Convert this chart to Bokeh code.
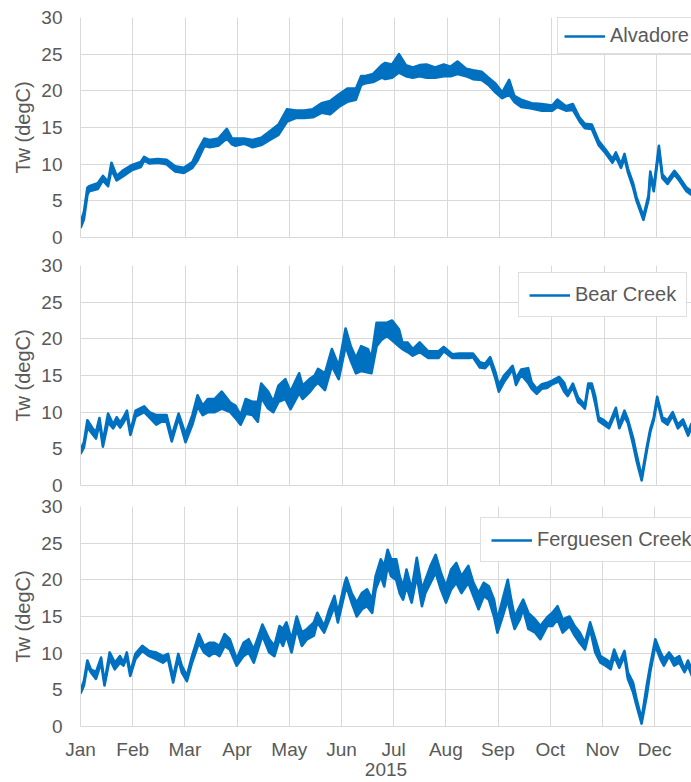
from bokeh.plotting import figure
from bokeh.layouts import column
from bokeh.models import Range1d, FixedTicker, Legend, LegendItem, ColumnDataSource
from bokeh.embed import file_html
from bokeh.resources import INLINE

# ---------------- data ----------------
months = ["Jan", "Feb", "Mar", "Apr", "May", "Jun",
          "Jul", "Aug", "Sep", "Oct", "Nov", "Dec"]
y_ticks = [0, 5, 10, 15, 20, 25, 30]
year_label = "2015"
y_label = "Tw (degC)"
series_names = ["Alvadore", "Bear Creek", "Ferguesen Creek"]

# day of year, daily low / high band of the water temperature trace
alv_day = [0, 2, 4, 5, 10, 13, 16, 18, 21, 25, 30, 35, 37, 40, 45, 50, 55, 60, 65, 68,
           72, 75, 80, 85, 88, 90, 95, 100, 105, 110, 115, 120, 125, 130, 135, 140, 145,
           150, 155, 160, 163, 165, 170, 175,
           177, 181, 185, 189, 193, 197, 201, 206, 211, 215, 219, 224, 228, 233, 237,
           241, 245, 249, 252, 256, 262, 268, 274, 277, 282, 286, 290, 293, 297, 301,
           305, 309, 311, 314, 316, 318, 321, 323, 327, 330, 331, 333, 336, 338, 341,
           345, 348, 352, 355]
alv_lo = [1.3, 2.5, 5.8, 6.3, 6.6, 7.8, 7.0, 9.2, 7.8, 8.4, 9.2, 9.6, 10.5, 10.1, 10.2,
          10.0, 9.0, 8.8, 9.5, 10.5, 12.5, 12.3, 12.5, 13.5, 12.7, 12.5, 12.8, 12.3, 12.6,
          13.3, 14.0, 15.8, 16.3, 16.3, 16.4, 17.0, 16.8, 17.8, 18.5, 18.8, 20.8, 21.0,
          21.2, 21.8,
          21.6, 21.8, 22.5, 22.0, 21.8, 22.0, 21.8, 21.8, 22.0, 22.0, 22.3, 22.0, 21.6,
          21.5, 20.8, 19.8, 19.0, 19.5, 18.5, 17.8, 17.6, 17.3, 17.3, 17.8, 17.3, 17.4,
          15.8, 14.9, 14.8, 12.6, 11.5, 10.2, 11.0, 9.5, 10.8, 8.9, 6.8, 5.0, 2.4, 5.2,
          8.4, 6.3, 11.9, 8.1, 7.3, 8.6, 7.7, 6.3, 5.8]
alv_hi = [2.0, 3.5, 6.8, 7.0, 7.4, 8.4, 7.6, 10.2, 8.4, 9.2, 9.9, 10.3, 11.0, 10.6, 10.7,
          10.6, 9.7, 9.5, 10.3, 11.8, 13.5, 13.3, 13.5, 14.8, 13.5, 13.5, 13.5, 13.3, 13.6,
          14.5, 15.4, 17.5, 17.3, 17.3, 17.5, 18.3, 18.6, 19.5, 20.3, 20.3, 22.0, 22.0,
          22.3, 23.5,
          23.8, 23.6, 25.0, 23.5, 23.2, 23.5, 23.6, 23.2, 23.6, 23.3, 24.0, 23.0, 22.8,
          22.6, 21.8, 21.0, 19.8, 21.5, 19.3, 18.8, 18.3, 18.2, 18.0, 18.8, 17.9, 18.2,
          16.3, 15.5, 15.4, 13.2, 12.0, 10.7, 11.6, 10.0, 11.4, 9.4, 7.4, 5.5, 2.9, 5.8,
          9.0, 6.8, 12.5, 8.6, 7.8, 9.1, 8.2, 6.8, 6.3]

bear_day = [0, 2, 4, 7, 9, 11, 13, 16, 19, 21, 23, 25, 27, 29, 32, 37, 40, 44, 47, 50,
            53, 57, 61, 65, 68, 71, 74, 78, 82, 87, 90, 93, 96, 100, 103, 105, 109, 112,
            115, 119, 122, 127, 129, 133, 136, 138, 142, 146, 150, 154, 157, 160, 163,
            167, 169, 172, 175, 178,
            181, 185, 187, 190, 193, 197, 202, 208, 211, 216, 220, 226, 228, 232, 235,
            238, 241, 243, 246, 251, 253, 256, 260, 262, 265, 268, 271, 274, 278, 281,
            283, 286, 289, 291, 293, 295, 297, 299, 301, 304, 307, 311, 313, 316, 318,
            321, 323, 326, 329, 331, 333, 335, 338, 341, 344, 347, 350, 353, 355]
bear_lo = [4.3, 5.2, 7.9, 7.0, 6.4, 8.5, 5.3, 8.6, 7.8, 8.6, 7.9, 8.6, 9.5, 6.9, 9.4,
           10.0, 9.3, 8.3, 8.7, 8.7, 6.0, 9.2, 5.9, 8.3, 10.8, 9.6, 10.0, 10.0, 10.5, 10.0,
           9.2, 8.3, 9.8, 9.6, 8.7, 12.0, 10.5, 10.0, 11.4, 11.8, 10.4, 12.6, 11.8, 12.7,
           13.6, 14.0, 13.0, 16.3, 14.5, 19.0, 17.0, 15.3, 15.6, 15.4, 15.3, 19.0, 19.9,
           20.4,
           19.8, 19.0, 18.6, 18.2, 17.7, 18.2, 17.4, 17.4, 18.3, 17.4, 17.4, 17.4, 17.5,
           16.1, 16.0, 16.8, 14.6, 12.8, 14.1, 15.8, 13.7, 15.1, 14.0, 13.2, 12.5, 13.2,
           13.3, 13.8, 14.2, 12.8, 12.2, 13.4, 11.4, 11.0, 10.5, 13.4, 13.2, 11.2, 8.8,
           8.3, 7.8, 10.0, 7.8, 9.4, 8.5, 5.6, 3.4, 0.7, 4.8, 7.3, 8.9, 11.6, 8.8, 8.3,
           9.5, 7.8, 8.5, 6.8, 8.0]
bear_hi = [4.9, 5.9, 8.9, 7.8, 7.3, 9.2, 6.0, 9.8, 8.3, 9.3, 8.6, 9.3, 10.2, 7.4, 10.2,
           10.8, 10.0, 9.6, 9.6, 9.6, 6.8, 9.8, 7.0, 9.6, 12.3, 10.9, 11.8, 11.8, 12.8,
           11.3, 10.9, 9.6, 11.8, 11.4, 11.4, 13.9, 12.8, 11.4, 13.6, 14.5, 12.8, 15.3,
           13.6, 14.5, 15.0, 15.9, 15.3, 18.6, 16.3, 21.4, 19.0, 17.4, 19.0, 18.6, 17.4,
           22.2, 22.2, 22.2,
           22.5, 21.3, 19.5, 19.5, 18.6, 19.5, 18.3, 18.3, 18.9, 17.9, 18.0, 18.0, 18.0,
           16.8, 16.6, 17.5, 15.5, 13.7, 15.0, 16.3, 14.6, 15.8, 16.0, 14.1, 13.2, 13.8,
           14.0, 14.3, 14.8, 14.0, 12.6, 13.9, 12.0, 11.5, 10.9, 13.9, 13.9, 12.2, 9.3,
           8.9, 8.3, 10.6, 8.3, 10.2, 9.0, 6.5, 4.3, 1.2, 5.3, 7.7, 9.3, 12.1, 9.3, 8.9,
           10.0, 8.3, 9.0, 7.3, 8.5]

ferg_day = [0, 2, 4, 6, 9, 12, 14, 17, 20, 23, 25, 27, 29, 32, 36, 40, 44, 48, 51, 54,
            57, 59, 62, 65, 69, 72, 75, 78, 81, 84, 87, 91, 95, 98, 101, 106, 110, 113,
            116, 118, 120, 123, 126, 129, 132, 136, 138, 142, 145, 148, 150, 154, 155,
            158, 161, 164, 167, 170, 172, 175, 177, 179,
            181, 184, 186, 188, 190, 193, 196, 199, 201, 204, 207, 210, 213, 216, 219,
            222, 226, 229, 232, 235, 238, 241, 243, 246, 249, 251, 253, 256, 258, 261,
            265, 268, 272, 275, 278, 281, 285, 288, 291, 294, 297, 300, 303, 306, 309,
            311, 314, 317, 319, 322, 324, 327, 330, 332, 335, 338, 340, 343, 346, 349,
            352, 354, 357]
ferg_lo = [4.5, 5.6, 8.3, 7.4, 6.5, 8.7, 5.6, 9.2, 7.8, 8.7, 8.3, 9.4, 6.9, 9.2, 10.3,
           9.6, 9.2, 8.7, 9.2, 6.0, 9.2, 7.4, 6.2, 8.7, 11.4, 10.1, 9.6, 10.1, 9.6, 11.0,
           10.5, 8.3, 9.6, 10.1, 8.7, 12.4, 10.1, 9.6, 11.9, 11.0, 12.4, 10.1, 13.3, 11.0,
           11.9, 12.4, 14.2, 12.8, 14.6, 16.4, 14.2, 18.2, 19.1, 16.9, 15.0, 16.0, 16.4,
           15.5, 18.7, 20.5, 19.1, 21.9,
           20.5, 20.0, 18.2, 17.3, 19.1, 16.9, 20.5, 16.4, 18.2, 19.6, 21.0, 18.7, 16.9,
           18.7, 19.6, 18.2, 19.6, 17.8, 16.0, 17.8, 17.3, 15.0, 12.8, 15.0, 17.3, 15.0,
           13.3, 14.6, 16.0, 13.3, 12.8, 11.9, 13.7, 13.7, 14.6, 12.8, 13.7, 12.4, 11.4,
           10.5, 13.3, 10.1, 8.7, 8.3, 7.8, 9.6, 8.0, 9.6, 6.5, 4.7, 2.9, 0.4, 4.2, 7.4,
           11.0, 9.2, 8.3, 9.6, 8.3, 8.7, 7.4, 8.3, 6.5]
ferg_hi = [4.9, 6.2, 9.0, 7.8, 7.4, 9.4, 6.0, 10.1, 8.7, 9.6, 8.7, 10.1, 7.4, 9.9, 11.0,
           10.3, 10.1, 9.6, 9.9, 6.7, 9.9, 8.3, 6.9, 9.6, 12.6, 11.0, 11.4, 11.4, 11.0,
           12.6, 11.9, 9.2, 11.4, 11.9, 10.5, 13.9, 11.9, 11.0, 13.7, 13.3, 14.2, 11.9,
           15.0, 12.8, 13.3, 14.2, 15.5, 13.7, 16.0, 17.8, 15.5, 19.6, 20.3, 18.2, 16.9,
           18.2, 18.7, 17.3, 20.5, 22.8, 21.9, 24.1,
           22.8, 22.8, 20.5, 19.1, 21.4, 18.7, 23.0, 18.7, 20.0, 21.9, 23.4, 21.0, 19.1,
           21.4, 22.3, 20.5, 21.9, 19.6, 18.2, 19.6, 19.1, 17.3, 14.6, 17.3, 20.0, 17.3,
           15.0, 16.4, 17.3, 15.5, 14.6, 13.7, 14.9, 15.5, 16.4, 14.6, 15.0, 13.7, 12.8,
           11.4, 14.2, 11.9, 9.6, 9.2, 8.7, 10.5, 8.7, 10.3, 7.4, 6.0, 3.8, 1.0, 5.6, 8.3,
           11.9, 10.1, 9.2, 10.1, 9.2, 9.6, 7.8, 9.0, 7.4]

# ---------------- styling ----------------
BLUE = "#0070C0"
GRID = "#d9d9d9"
TEXT = "#595959"
FONT = "Liberation Sans"
DAYS_PER_MONTH = 365.0 / 12.0
MONTH_TICKS = list(range(len(months)))


def make_panel(name, day, lo, hi, height, b_top, b_bottom, b_left, x_end,
               legend_xy, legend_pad, bottom_axis):
    assert len(day) == len(lo) == len(hi)
    src = ColumnDataSource(dict(x=[d / DAYS_PER_MONTH for d in day], lo=lo, hi=hi))
    p = figure(width=691, height=height, x_range=Range1d(0, x_end),
               y_range=Range1d(0, 30), output_backend="svg", toolbar_location=None,
               min_border_left=b_left, min_border_right=0, min_border_top=b_top,
               min_border_bottom=b_bottom)
    p.outline_line_color = None
    p.background_fill_color = "white"
    p.border_fill_color = "white"

    p.varea(x="x", y1="lo", y2="hi", source=src, fill_color=BLUE, fill_alpha=1)
    p.line("x", "lo", source=src, line_color=BLUE, line_width=2.6, line_join="round")
    r_hi = p.line("x", "hi", source=src, line_color=BLUE, line_width=2.6,
                  line_join="round")

    # y axis
    p.yaxis.ticker = FixedTicker(ticks=y_ticks)
    p.yaxis.axis_label = y_label
    p.yaxis.axis_label_text_font = FONT
    p.yaxis.axis_label_text_font_size = "20px"
    p.yaxis.axis_label_text_font_style = "normal"
    p.yaxis.axis_label_text_color = TEXT
    p.yaxis.axis_label_standoff = 4
    p.yaxis.major_label_text_font = FONT
    p.yaxis.major_label_text_font_size = "19px"
    p.yaxis.major_label_text_color = TEXT
    p.yaxis.major_label_standoff = 18
    p.yaxis.major_tick_out = 0
    p.yaxis.major_tick_in = 0
    p.yaxis.minor_tick_out = 0
    p.yaxis.minor_tick_in = 0
    p.yaxis.axis_line_color = GRID

    # x axis
    p.xaxis.major_tick_out = 0
    p.xaxis.major_tick_in = 0
    p.xaxis.minor_tick_out = 0
    p.xaxis.minor_tick_in = 0
    p.xaxis.axis_line_color = GRID
    if bottom_axis:
        p.xaxis.ticker = FixedTicker(ticks=MONTH_TICKS)
        p.xaxis.major_label_overrides = {i: m for i, m in enumerate(months)}
        p.xaxis.major_label_text_font = FONT
        p.xaxis.major_label_text_color = TEXT
        p.xaxis.major_label_text_font_size = "19px"
        p.xaxis.major_label_standoff = 12
        p.xaxis.axis_label = year_label
        p.xaxis.axis_label_text_font = FONT
        p.xaxis.axis_label_text_font_size = "19px"
        p.xaxis.axis_label_text_font_style = "normal"
        p.xaxis.axis_label_text_color = TEXT
        p.xaxis.axis_label_standoff = 0
    else:
        # only the axis line, no month labels on the upper panels
        p.xaxis.ticker = FixedTicker(ticks=[])
        p.xaxis.major_label_standoff = 0

    # grid
    p.xgrid.ticker = FixedTicker(ticks=MONTH_TICKS)
    p.ygrid.ticker = FixedTicker(ticks=y_ticks)
    p.grid.grid_line_color = GRID
    p.grid.grid_line_width = 1

    legend = Legend(items=[LegendItem(label=name, renderers=[r_hi])],
                    location=legend_xy, padding=legend_pad, margin=0, spacing=0,
                    glyph_width=41, glyph_height=22, label_height=22,
                    label_standoff=5, label_text_font=FONT,
                    label_text_font_size="20px", label_text_color=TEXT,
                    border_line_color="#bfbfbf", border_line_width=1.3,
                    background_fill_color="white", background_fill_alpha=1)
    p.add_layout(legend)
    return p


p1 = make_panel(series_names[0], alv_day, alv_lo, alv_hi, height=250, b_top=17,
                b_bottom=13, b_left=80, x_end=11.669, legend_xy=(477, 183),
                legend_pad=6, bottom_axis=False)
p2 = make_panel(series_names[1], bear_day, bear_lo, bear_hi, height=245, b_top=15,
                b_bottom=10, b_left=80, x_end=11.669, legend_xy=(438, 168),
                legend_pad=10, bottom_axis=False)
p3 = make_panel(series_names[2], ferg_day, ferg_lo, ferg_hi, height=287, b_top=11,
                b_bottom=56, b_left=78, x_end=11.707, legend_xy=(400, 164),
                legend_pad=10, bottom_axis=True)

layout = column(p1, p2, p3, spacing=0)
open("out.html", "w").write(file_html(layout, INLINE, title="Water temperature 2015"))
